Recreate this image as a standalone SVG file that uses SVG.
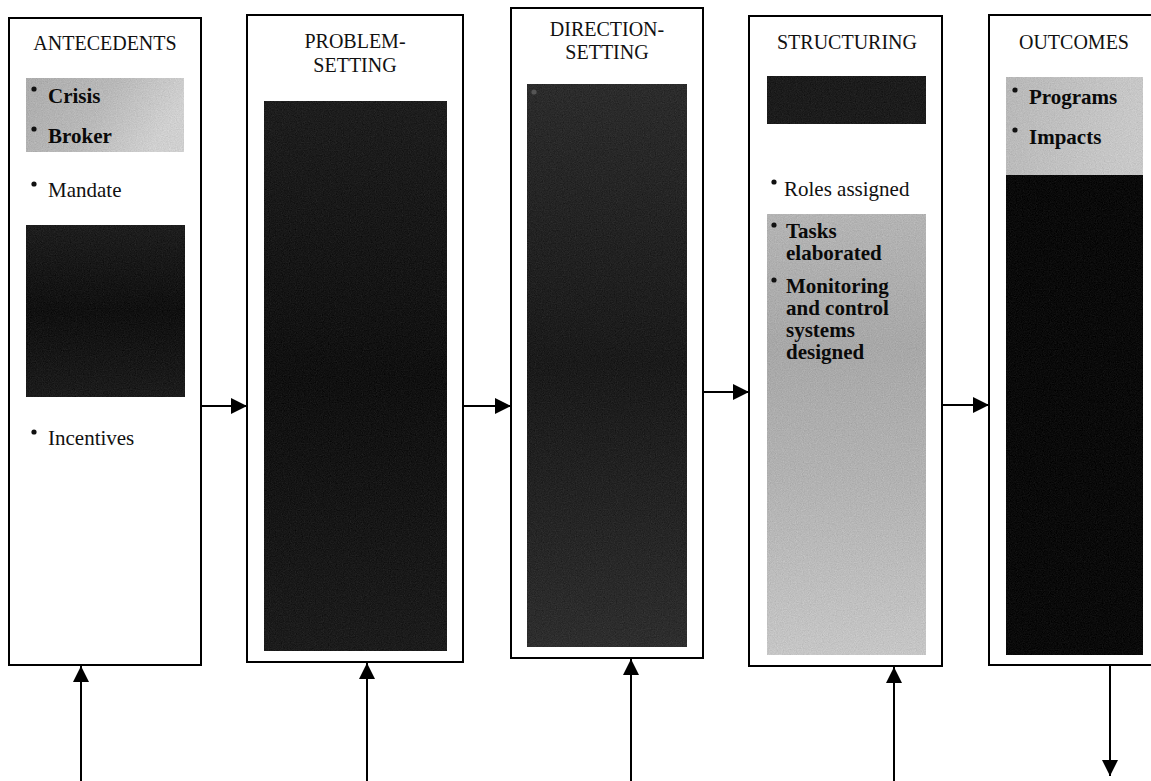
<svg xmlns="http://www.w3.org/2000/svg" width="1151" height="781" viewBox="0 0 1151 781">
  <style>
    .frame { fill: #ffffff; stroke: #000000; stroke-width: 2; }
    .head { font-family: "Liberation Serif", "Times New Roman", serif; font-size: 20px; fill: #111111; text-anchor: middle; }
    .item { font-family: "Liberation Serif", "Times New Roman", serif; font-size: 21px; fill: #111111; }
    .bold { font-family: "Liberation Serif", "Times New Roman", serif; font-size: 21px; font-weight: bold; fill: #0a0a0a; }
    .dot { fill: #111111; }
    .link { fill: none; stroke: #000000; stroke-width: 2; }
    .shade { filter: url(#grain); }
  </style>
  <defs>
    <marker id="head" markerUnits="userSpaceOnUse" markerWidth="17" markerHeight="16" refX="16" refY="8" orient="auto">
      <path d="M0,0 L16,8 L0,16 Z" fill="#000000"/>
    </marker>
    <!-- fine print-screen grain for the shaded panels -->
    <filter id="grain" x="0" y="0" width="1" height="1" color-interpolation-filters="sRGB">
      <feTurbulence type="fractalNoise" baseFrequency="0.85" numOctaves="2" seed="7" result="noise"/>
      <feColorMatrix in="noise" type="matrix" values="0.33 0.33 0.33 0 0  0.33 0.33 0.33 0 0  0.33 0.33 0.33 0 0  0 0 0 0 1" result="mono"/>
      <feComposite in="mono" in2="SourceGraphic" operator="arithmetic" k1="0" k2="0.22" k3="1" k4="-0.11" result="mix"/>
      <feComposite in="mix" in2="SourceGraphic" operator="in"/>
    </filter>
    <linearGradient id="greyA" x1="0" y1="0" x2="1" y2="0.3">
      <stop offset="0" stop-color="#acacac"/>
      <stop offset="0.55" stop-color="#b9b9b9"/>
      <stop offset="1" stop-color="#d0d0d0"/>
    </linearGradient>
    <linearGradient id="greyB" x1="0" y1="0" x2="0" y2="1">
      <stop offset="0" stop-color="#b4b4b4"/>
      <stop offset="0.3" stop-color="#a8a8a8"/>
      <stop offset="0.6" stop-color="#b2b2b2"/>
      <stop offset="1" stop-color="#c6c6c6"/>
    </linearGradient>
    <linearGradient id="greyC" x1="0" y1="0" x2="1" y2="0.2">
      <stop offset="0" stop-color="#b8b8b8"/>
      <stop offset="1" stop-color="#c8c8c8"/>
    </linearGradient>
    <linearGradient id="darkA" x1="0" y1="0" x2="0" y2="1">
      <stop offset="0" stop-color="#1e1e1e"/>
      <stop offset="0.5" stop-color="#101010"/>
      <stop offset="1" stop-color="#1c1c1c"/>
    </linearGradient>
    <linearGradient id="darkB" x1="0" y1="0" x2="0" y2="1">
      <stop offset="0" stop-color="#2c2c2c"/>
      <stop offset="0.5" stop-color="#1a1a1a"/>
      <stop offset="1" stop-color="#2e2e2e"/>
    </linearGradient>
  </defs>

  <!-- stage 1 -->
  <g id="antecedents">
    <rect class="frame" x="9" y="18" width="192" height="647"/>
    <text class="head" x="105" y="50" font-size="19">ANTECEDENTS</text>
    <rect class="shade" x="26" y="78" width="158" height="74" fill="url(#greyA)"/>
    <circle class="dot" cx="34" cy="89" r="2.6"/>
    <text class="bold" x="48" y="103">Crisis</text>
    <circle class="dot" cx="34" cy="129" r="2.6"/>
    <text class="bold" x="48" y="143">Broker</text>
    <circle class="dot" cx="34" cy="184" r="2.6"/>
    <text class="item" x="48" y="197">Mandate</text>
    <rect class="shade" x="26" y="225" width="159" height="172" fill="url(#darkA)"/>
    <circle class="dot" cx="34" cy="432" r="2.6"/>
    <text class="item" x="48" y="445">Incentives</text>
  </g>

  <!-- stage 2 -->
  <g id="problem-setting">
    <rect class="frame" x="247" y="15" width="216" height="647"/>
    <text class="head" x="355" y="48" font-size="21">PROBLEM-<tspan x="355" dy="24">SETTING</tspan></text>
    <rect class="shade" x="264" y="101" width="183" height="550" fill="url(#darkA)"/>
  </g>

  <!-- stage 3 -->
  <g id="direction-setting">
    <rect class="frame" x="511" y="8" width="192" height="650"/>
    <text class="head" x="607" y="36" font-size="21">DIRECTION-<tspan x="607" dy="23">SETTING</tspan></text>
    <rect class="shade" x="527" y="84" width="160" height="563" fill="url(#darkB)"/>
    <circle cx="534" cy="92" r="2.6" fill="#555555"/>
  </g>

  <!-- stage 4 -->
  <g id="structuring">
    <rect class="frame" x="749" y="16" width="193" height="650"/>
    <text class="head" x="847" y="49" font-size="19">STRUCTURING</text>
    <rect class="shade" x="767" y="76" width="159" height="48" fill="#1c1c1c"/>
    <circle class="dot" cx="774" cy="182" r="2.6"/>
    <text class="item" x="784" y="196" font-size="22">Roles assigned</text>
    <rect class="shade" x="767" y="214" width="159" height="441" fill="url(#greyB)"/>
    <circle class="dot" cx="774" cy="225" r="2.6"/>
    <text class="bold" x="786" y="238" font-size="19">Tasks<tspan x="786" dy="22">elaborated</tspan></text>
    <circle class="dot" cx="774" cy="280" r="2.6"/>
    <text class="bold" x="786" y="293" font-size="19">Monitoring<tspan x="786" dy="22">and control</tspan><tspan x="786" dy="22">systems</tspan><tspan x="786" dy="22">designed</tspan></text>
  </g>

  <!-- stage 5 -->
  <g id="outcomes">
    <rect class="frame" x="989" y="15" width="200" height="650"/>
    <text class="head" x="1074" y="49" font-size="22">OUTCOMES</text>
    <rect class="shade" x="1006" y="77" width="137" height="98" fill="url(#greyC)"/>
    <circle class="dot" cx="1015" cy="90" r="2.6"/>
    <text class="bold" x="1029" y="104">Programs</text>
    <circle class="dot" cx="1015" cy="130" r="2.6"/>
    <text class="bold" x="1029" y="144">Impacts</text>
    <rect class="shade" x="1006" y="175" width="137" height="480" fill="#0a0a0a"/>
  </g>

  <!-- connectors -->
  <g id="connectors">
    <line class="link" x1="201" y1="406" x2="247" y2="406" marker-end="url(#head)"/>
    <line class="link" x1="463" y1="406" x2="511" y2="406" marker-end="url(#head)"/>
    <line class="link" x1="703" y1="392" x2="749" y2="392" marker-end="url(#head)"/>
    <line class="link" x1="942" y1="405" x2="989" y2="405" marker-end="url(#head)"/>
    <line class="link" x1="81" y1="781" x2="81" y2="666" marker-end="url(#head)"/>
    <line class="link" x1="367" y1="781" x2="367" y2="663" marker-end="url(#head)"/>
    <line class="link" x1="631" y1="781" x2="631" y2="659" marker-end="url(#head)"/>
    <line class="link" x1="894" y1="781" x2="894" y2="667" marker-end="url(#head)"/>
    <line class="link" x1="1110" y1="666" x2="1110" y2="776" marker-end="url(#head)"/>
  </g>
</svg>
